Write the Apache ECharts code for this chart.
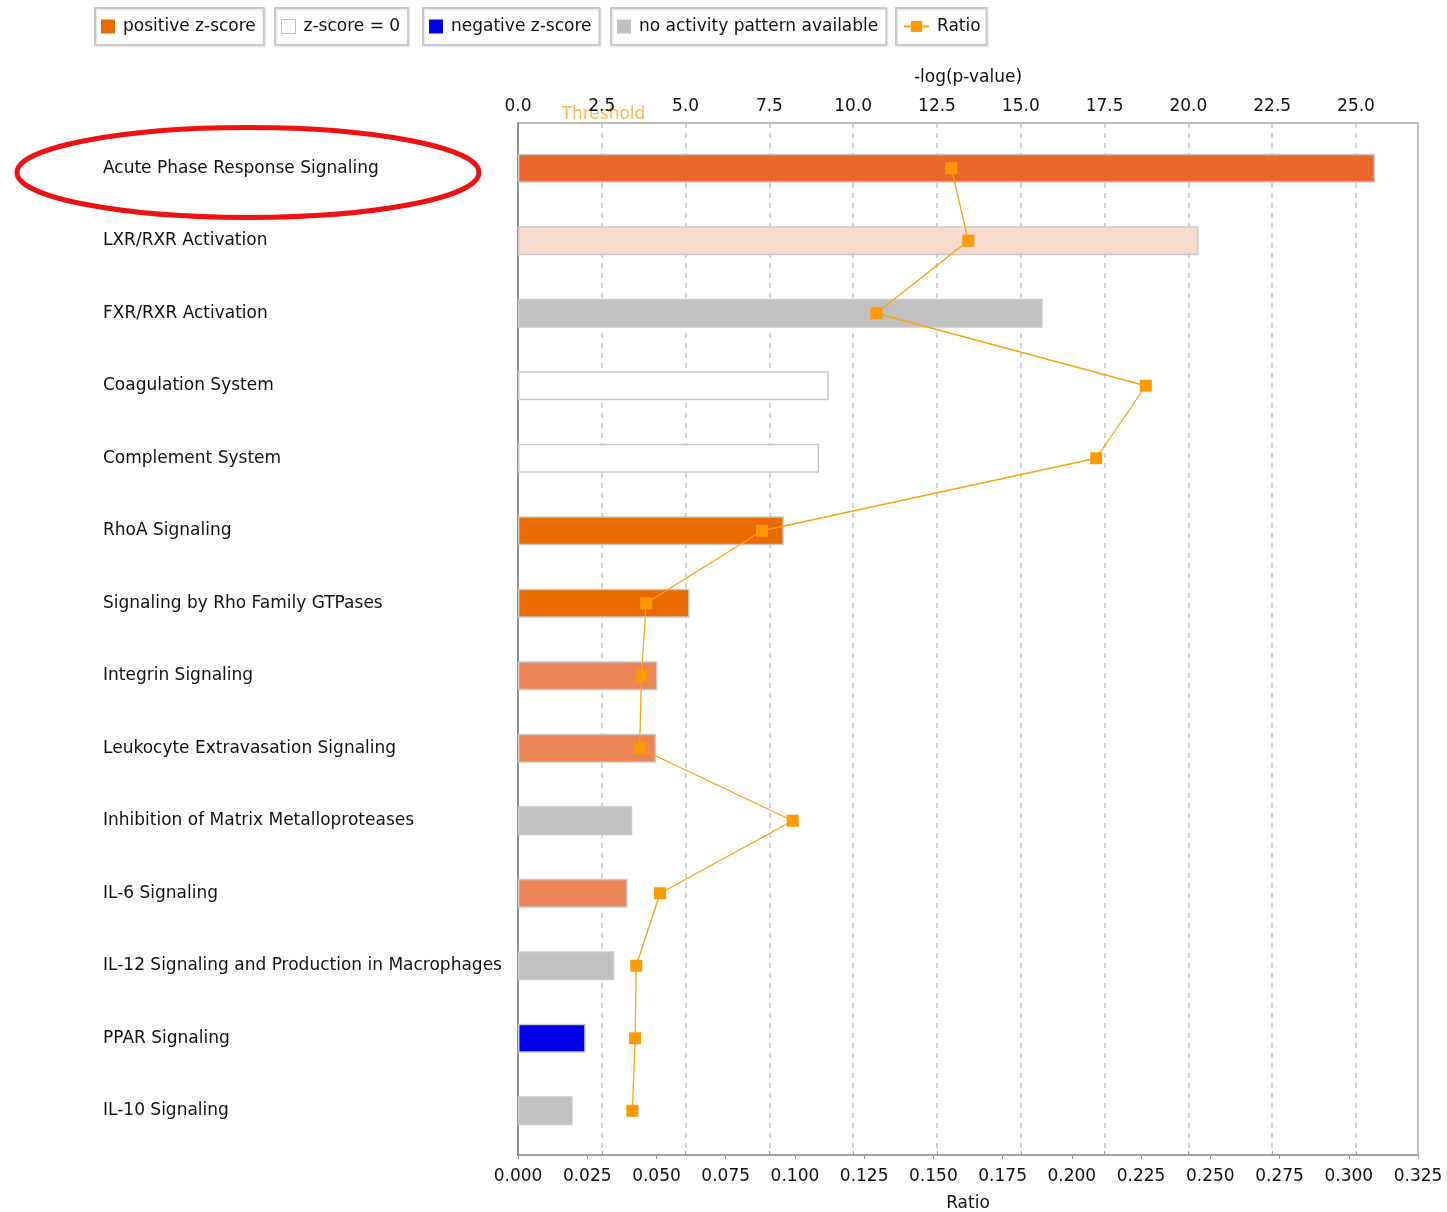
<!DOCTYPE html>
<html>
<head>
<meta charset="utf-8">
<title>Canonical pathways</title>
<script src="https://cdn.jsdelivr.net/npm/echarts@6/dist/echarts.min.js"></script>
<style>
  html, body { margin: 0; padding: 0; background: #ffffff; }
  #chart { width: 1447px; height: 1212px; }
</style>
</head>
<body>
<div id="chart"></div>
<script>
// Canonical pathways, ordered by significance
const pathways = [
  'Acute Phase Response Signaling',
  'LXR/RXR Activation',
  'FXR/RXR Activation',
  'Coagulation System',
  'Complement System',
  'RhoA Signaling',
  'Signaling by Rho Family GTPases',
  'Integrin Signaling',
  'Leukocyte Extravasation Signaling',
  'Inhibition of Matrix Metalloproteases',
  'IL-6 Signaling',
  'IL-12 Signaling and Production in Macrophages',
  'PPAR Signaling',
  'IL-10 Signaling'
];

// -log(p-value) per pathway (bars, top axis)
const negLogP = [25.57, 20.30, 15.65, 9.27, 8.98, 7.93, 5.12, 4.16, 4.12, 3.41, 3.27, 2.87, 2.02, 1.63];

// Ratio of genes in the pathway (line, bottom axis)
const ratios = [0.1565, 0.1626, 0.1294, 0.2267, 0.2088, 0.0881, 0.0463, 0.0446, 0.0439, 0.0992, 0.0513, 0.0427, 0.0423, 0.0413];

// Activation z-score per pathway (null = no activity pattern available)
const zScores = [2.8, 0.4, null, 0, 0, 3.3, 3.3, 1.9, 1.9, null, 1.9, null, -2.6, null];

// Significance threshold, -log(0.05)
const threshold = 1.3;

// Axis ranges and tick steps
const pMax = 26.85;
const pStep = 2.5;
const ratioMax = 0.325;
const ratioStep = 0.025;

const FONT = "'DejaVu Sans', sans-serif";
const names = {
  pos: 'positive z-score',
  zero: 'z-score = 0',
  neg: 'negative z-score',
  none: 'no activity pattern available',
  ratio: 'Ratio'
};

// Orange shade grows with the size of a positive z-score
function positiveShade(z) {
  if (z >= 3) return '#E86A00';
  if (z >= 2.5) return '#E8682C';
  if (z >= 1.5) return '#EB8556';
  return '#F8DBCD';
}

function pick(test, colorFn) {
  return negLogP.map((v, i) => {
    const z = zScores[i];
    if (!test(z)) return '-';
    return colorFn ? { value: v, itemStyle: { color: colorFn(z) } } : v;
  });
}

const posData = pick(z => z !== null && z > 0, positiveShade);
const zeroData = pick(z => z === 0);
const negData = pick(z => z !== null && z < 0);
const noneData = pick(z => z === null);

const barBase = {
  type: 'bar',
  xAxisIndex: 2,
  yAxisIndex: 1,
  stack: 'pathway',
  barWidth: 29,
  z: 3
};
const barBorder = { borderColor: '#c8c8c8', borderWidth: 1.5 };

const legendBase = {
  orient: 'horizontal',
  top: 8,
  padding: [10, 8, 10, 6],
  itemWidth: 14,
  itemHeight: 14,
  itemGap: 0,
  icon: 'rect',
  selectedMode: false,
  borderColor: '#c9c9c9',
  borderWidth: 2,
  shadowColor: 'rgba(0,0,0,0.12)',
  shadowBlur: 2,
  shadowOffsetX: 1,
  shadowOffsetY: 1,
  textStyle: { fontFamily: FONT, fontSize: 17, color: '#111', padding: [0, 0, 0, 3] }
};

const axisText = { fontFamily: FONT, fontSize: 17, color: '#111' };

const chart = echarts.init(document.getElementById('chart'), null, { renderer: 'canvas' });

chart.setOption({
  backgroundColor: '#ffffff',
  animation: false,
  textStyle: { fontFamily: FONT },
  legend: [
    Object.assign({}, legendBase, { left: 95, data: [names.pos], itemStyle: { borderWidth: 0 } }),
    Object.assign({}, legendBase, { left: 275, data: [names.zero], itemStyle: { borderColor: '#bdbdbd', borderWidth: 1 } }),
    Object.assign({}, legendBase, { left: 423, data: [names.neg], itemStyle: { borderWidth: 0 } }),
    Object.assign({}, legendBase, { left: 611, data: [names.none], itemStyle: { borderWidth: 0 } }),
    Object.assign({}, legendBase, { left: 896, data: [names.ratio], icon: null, itemWidth: 25, padding: [10, 6, 10, 7] })
  ],
  grid: [
    // frame with both value axes
    { left: 518, right: 29, top: 123, bottom: 57, outerBoundsMode: 'none', containLabel: false,
      show: true, borderColor: '#a8a8a8', borderWidth: 1.5, backgroundColor: 'transparent' },
    // pathway rows
    { left: 518, right: 29, top: 132, bottom: 65, outerBoundsMode: 'none', containLabel: false }
  ],
  xAxis: [
    {
      gridIndex: 0, type: 'value', position: 'top',
      min: 0, max: pMax, interval: pStep,
      name: '-log(p-value)', nameLocation: 'middle', nameGap: 37,
      nameTextStyle: axisText,
      axisLine: { show: true, lineStyle: { color: '#a0a0a0', width: 1.5 } },
      axisTick: { show: true, length: 4, lineStyle: { color: '#999999' } },
      axisLabel: Object.assign({ formatter: v => v.toFixed(1), margin: 8, showMaxLabel: false }, axisText),
      splitLine: { show: true, lineStyle: { type: [5, 5], color: '#c4c4c4', width: 1.5 } }
    },
    {
      gridIndex: 0, type: 'value', position: 'bottom',
      min: 0, max: ratioMax, interval: ratioStep,
      name: 'Ratio', nameLocation: 'middle', nameGap: 40,
      nameTextStyle: axisText,
      axisLine: { show: true, lineStyle: { color: '#a0a0a0', width: 1.5 } },
      axisTick: { show: true, length: 4, lineStyle: { color: '#999999' } },
      axisLabel: Object.assign({ formatter: v => v.toFixed(3), margin: 13 }, axisText),
      splitLine: { show: false }
    },
    { gridIndex: 1, type: 'value', min: 0, max: pMax, show: false },
    { gridIndex: 1, type: 'value', min: 0, max: ratioMax, show: false }
  ],
  yAxis: [
    {
      gridIndex: 0, type: 'value', min: 0, max: 1,
      axisLine: { show: true, lineStyle: { color: '#808080', width: 1.5 } },
      axisTick: { show: false }, axisLabel: { show: false }, splitLine: { show: false }
    },
    {
      gridIndex: 1, type: 'category', inverse: true, data: pathways,
      axisLine: { show: false }, axisTick: { show: false }, splitLine: { show: false },
      axisLabel: Object.assign({ align: 'left', margin: 415 }, axisText)
    }
  ],
  series: [
    Object.assign({}, barBase, { name: names.pos, data: posData, itemStyle: Object.assign({ color: '#E86A00' }, barBorder) }),
    Object.assign({}, barBase, { name: names.zero, data: zeroData, itemStyle: Object.assign({ color: '#ffffff' }, barBorder) }),
    Object.assign({}, barBase, { name: names.neg, data: negData, itemStyle: Object.assign({ color: '#0000E6' }, barBorder) }),
    Object.assign({}, barBase, { name: names.none, data: noneData, itemStyle: Object.assign({ color: '#C0C0C0' }, barBorder) }),
    {
      name: names.ratio, type: 'line',
      xAxisIndex: 3, yAxisIndex: 1,
      data: ratios,
      symbol: 'rect', symbolSize: 12,
      itemStyle: { color: '#FF9900' },
      lineStyle: { color: '#FFA010', width: 1.3 },
      z: 5
    }
  ]
});

// Threshold label sits on the -log(p-value) axis at the cutoff
const thresholdX = chart.convertToPixel({ xAxisIndex: 0 }, threshold);
chart.setOption({
  graphic: [
    {
      type: 'text', z: -1,
      x: thresholdX, y: 115,
      style: {
        text: 'Threshold', fill: 'rgba(255,153,0,0.7)',
        font: "17px 'DejaVu Sans', sans-serif",
        textAlign: 'left', textVerticalAlign: 'middle'
      }
    },
    {
      type: 'ellipse',
      shape: { cx: 248, cy: 172.5, rx: 231, ry: 45 },
      style: { fill: null, stroke: '#EE1111', lineWidth: 5 }
    }
  ]
});
</script>
</body>
</html>
